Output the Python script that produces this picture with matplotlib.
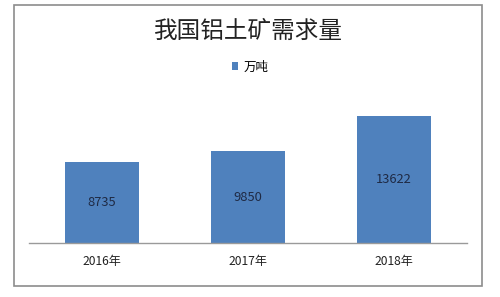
import matplotlib
matplotlib.use("Agg")
import matplotlib.pyplot as plt
from matplotlib.patches import Rectangle

plt.rcParams['font.family'] = ['Noto Sans CJK SC', 'DejaVu Sans']

categories = ["2016年", "2017年", "2018年"]
values = [8735, 9850, 13622]
title = "我国铝土矿需求量"
series_name = "万吨"

W, H = 500, 297
fig = plt.figure(figsize=(W / 100, H / 100), dpi=100)

# outer chart frame
fig.patches.append(Rectangle((14 / W, 1 - 286 / H), (482 - 14) / W, (286 - 5) / H,
                             transform=fig.transFigure, fill=False,
                             edgecolor="#8c8c8c", linewidth=1.2))

ax = fig.add_axes([29 / W, 1 - 243 / H, (467 - 29) / W, (243 - 94) / H])
x = range(len(categories))
bars = ax.bar(x, values, width=0.507, color="#4F81BD", label=series_name, zorder=2)
ax.set_xlim(-0.5, len(categories) - 0.5)
ax.set_ylim(0, 16000)
ax.set_yticks([])
ax.set_xticks(list(x))
ax.set_xticklabels(categories, fontsize=8.7, color="#222222")
ax.tick_params(axis="x", length=0, pad=9)
for s in ["top", "right", "left"]:
    ax.spines[s].set_visible(False)
ax.spines["bottom"].set_color("#9a9a9a")
ax.spines["bottom"].set_linewidth(1.0)
ax.patch.set_alpha(0)

for rect, v in zip(bars, values):
    ax.text(rect.get_x() + rect.get_width() / 2, v / 2, str(v),
            ha="center", va="center", fontsize=9.3, color="#1f2a44")

fig.text(248 / W, 1 - 31 / H, title, ha="center", va="center", fontsize=17,
         color="#222222", fontweight="light")

leg = fig.legend(handles=[bars], labels=[series_name], loc="center",
                 bbox_to_anchor=(250 / W, 1 - 67 / H), frameon=False,
                 fontsize=9, handlelength=0.55, handleheight=0.55, handletextpad=0.4)

fig.savefig("out.png", dpi=100, facecolor="white")
